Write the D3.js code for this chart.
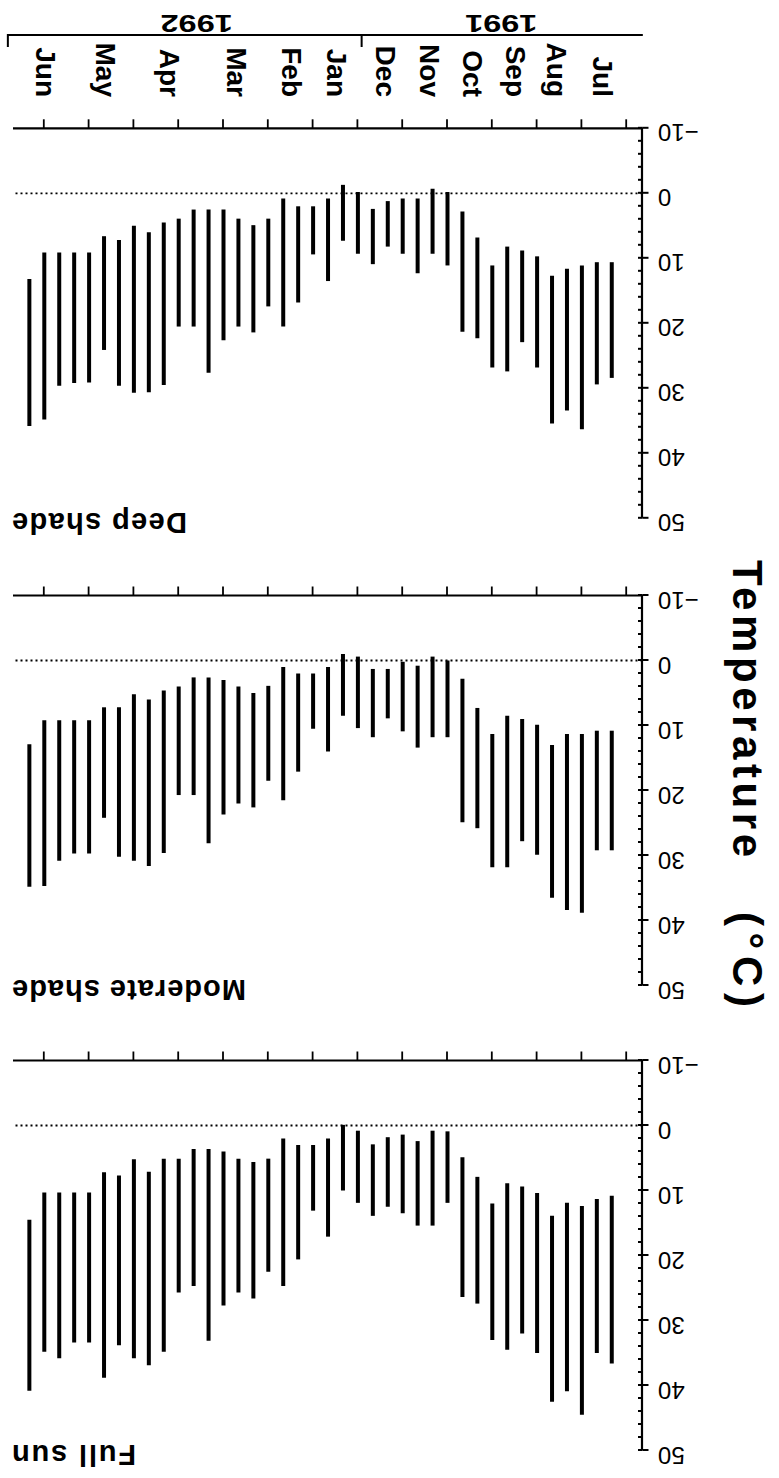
<!DOCTYPE html>
<html><head><meta charset="utf-8">
<script src="https://cdn.jsdelivr.net/npm/d3@7"></script>
<style>body{margin:0;background:#fff}svg{display:block}</style>
</head><body>
<script>
// ---- data (chronological order, 10-day periods, Jul 1991 -> Jun 1992) ----
const months = ["Jul","Aug","Sep","Oct","Nov","Dec","Jan","Feb","Mar","Apr","May","Jun"];
const monthPos = [1.6,4.7,7.4,10.3,13.2,16.1,19.4,22.4,26.1,30.6,34.9,38.9];
const years = ["1991","1992"];
const yearPos = [8.4,28.8];
const yearBreaks = [-1.08,17.75,41.44];
const panelNames = ["Full sun","Moderate shade","Deep shade"];
const tempTicks = [-10,0,10,20,30,40,50];
const minorTicks = d3.range(-10,51,2);
const monthTicks = d3.range(0,40,3);

const fullMin = [10.8,11.3,12.4,11.9,13.9,10.4,9.4,8.9,12.0,7.9,4.9,0.9,0.8,2.4,1.4,1.8,2.9,0.8,-0.1,2.0,3.0,3.0,2.0,5.1,5.6,5.1,4.0,3.6,3.6,5.1,5.1,7.1,5.2,7.7,7.2,10.3,10.3,10.3,10.3,14.5];
const fullMax = [36.6,35.0,44.5,40.9,42.5,35.0,32.0,34.5,33.0,27.4,26.4,11.9,15.4,15.4,13.5,12.5,13.9,11.9,10.0,17.1,13.1,20.6,24.7,22.5,26.6,25.7,27.7,33.1,24.7,25.7,34.8,36.9,35.8,33.8,38.8,33.4,33.4,35.8,34.8,40.8];
const modMin = [10.8,10.8,11.3,11.3,13.0,9.9,9.0,8.5,11.3,7.3,2.8,0.0,-0.6,0.8,0.2,1.3,1.3,-0.6,-1.0,1.0,2.0,2.0,1.0,3.9,5.0,4.0,3.0,2.6,2.6,4.0,4.6,6.0,5.2,7.2,7.2,9.2,9.2,9.2,9.2,12.9];
const modMax = [29.2,29.2,38.8,38.4,36.5,29.9,27.8,31.8,31.8,25.8,24.9,11.8,11.8,13.4,10.9,8.9,11.8,10.4,8.5,14.0,10.5,17.1,21.5,18.5,22.6,22.0,23.7,28.1,20.7,20.7,29.6,31.6,30.8,30.2,24.2,29.7,29.7,30.8,34.7,34.8];
const deepMin = [10.6,10.6,11.1,11.6,12.7,9.7,8.8,8.2,11.1,6.8,2.8,-0.2,-0.7,0.8,0.8,1.2,2.4,-0.2,-1.3,0.8,2.0,2.0,0.8,3.9,4.9,3.9,2.5,2.5,2.5,3.9,4.5,6.0,5.0,7.2,6.6,9.1,9.1,9.1,9.1,13.2];
const deepMax = [28.4,29.4,36.3,33.4,35.4,26.8,22.9,27.4,26.8,22.3,21.3,11.1,9.3,12.3,9.3,8.2,10.9,9.3,7.3,13.5,9.4,16.8,20.5,17.4,21.4,20.5,22.6,27.6,20.5,20.5,29.5,30.6,30.7,29.6,24.1,29.1,29.2,29.6,34.8,35.8];
const seriesMin = [fullMin, modMin, deepMin];
const seriesMax = [fullMax, modMax, deepMax];

// ---- layout ----
const W = 779, H = 1478;
const font = "'Liberation Sans', Arial, Helvetica, sans-serif";
const svg = d3.select("body").append("svg").attr("width", W).attr("height", H);
svg.append("rect").attr("width", W).attr("height", H).attr("fill", "#fff");
// whole figure is shown upside down
const g = svg.append("g").attr("transform", `rotate(180 ${W/2} ${H/2})`);

const x = d3.scaleLinear().domain([0, 39]).range([152.3, 734.7]);
const axisX = 136.5, plotRight = 766;
const panelTops = [27.5, 492.5, 959.7], panelH = 390;
const labelLen = [124, 234, 175];

panelNames.forEach((name, p) => {
  const y = d3.scaleLinear().domain([-10, 50]).range([panelTops[p] + panelH, panelTops[p]]);
  const pg = g.append("g");

  // zero line (dotted)
  pg.append("line")
    .attr("x1", axisX).attr("x2", plotRight)
    .attr("y1", y(0)).attr("y2", y(0))
    .attr("stroke", "#000").attr("stroke-width", 1.8)
    .attr("stroke-dasharray", "2,3");

  // temperature axis: outward major ticks + labels
  const axL = pg.append("g").attr("transform", `translate(${axisX},0)`)
    .call(d3.axisLeft(y).tickValues(tempTicks).tickSizeInner(6).tickSizeOuter(0).tickPadding(9.5));
  axL.select(".domain").attr("stroke-width", 2.2);
  axL.selectAll(".tick line").attr("stroke-width", 2);
  axL.selectAll("text").attr("font-family", font).attr("font-size", 24).attr("dy", "0.14em").attr("fill", "#000");
  // inward minor ticks
  const axR = pg.append("g").attr("transform", `translate(${axisX},0)`)
    .call(d3.axisRight(y).tickValues(minorTicks).tickSizeInner(4.5).tickSizeOuter(0).tickFormat(""));
  axR.select(".domain").remove();
  axR.selectAll(".tick line").attr("stroke-width", 2);

  // month axis at bottom of panel
  const axB = pg.append("g").attr("transform", `translate(0,${y(-10)})`)
    .call(d3.axisBottom(x).tickValues(monthTicks).tickSizeInner(9).tickSizeOuter(0).tickFormat(""));
  axB.select(".domain").attr("d", `M${axisX},0H${plotRight}`).attr("stroke-width", 2.2);
  axB.selectAll(".tick line").attr("stroke-width", 1.8);

  // range bars
  pg.append("g").selectAll("line")
    .data(seriesMin[p].map((v, i) => ({i, lo: v, hi: seriesMax[p][i]})))
    .join("line")
    .attr("x1", d => x(d.i + 1)).attr("x2", d => x(d.i + 1))
    .attr("y1", d => y(d.lo)).attr("y2", d => y(d.hi))
    .attr("stroke", "#000").attr("stroke-width", 4);

  // panel label
  pg.append("text")
    .attr("x", 767).attr("y", panelTops[p] + 5.5)
    .attr("text-anchor", "end")
    .attr("font-family", font).attr("font-weight", "bold").attr("font-size", 29)
    .attr("textLength", labelLen[p]).attr("lengthAdjust", "spacing")
    .text(name);
});

// month labels (below bottom panel)
const mBase = 1381;
g.append("g").selectAll("text").data(months).join("text")
  .attr("x", (d, i) => x(monthPos[i])).attr("y", mBase)
  .attr("transform", (d, i) => `rotate(-90 ${x(monthPos[i])} ${mBase})`)
  .attr("text-anchor", "end").attr("dy", "0.35em")
  .attr("font-family", font).attr("font-weight", "bold").attr("font-size", 28)
  .text(d => d);

// year brackets
const yb = 1443;
const br = g.append("g").attr("stroke", "#000").attr("stroke-width", 2).attr("fill", "none");
br.append("path").attr("d", `M${x(yearBreaks[0])},${yb}H${x(yearBreaks[2])}V${yb - 12}M${x(yearBreaks[1])},${yb}V${yb - 12}`);
g.append("g").selectAll("text").data(years).join("text")
  .attr("transform", (d, i) => `translate(${x(yearPos[i])},1463) scale(1.35,1)`)
  .attr("text-anchor", "middle")
  .attr("font-family", font).attr("font-weight", "bold").attr("font-size", 24)
  .text(d => d);

// y-axis title
g.append("text")
  .attr("transform", "translate(46,918) rotate(-90)")
  .attr("text-anchor", "start")
  .attr("font-family", font).attr("font-weight", "bold").attr("font-size", 42)
  .attr("textLength", 297).attr("lengthAdjust", "spacing")
  .text("Temperature");
g.append("text")
  .attr("transform", "translate(46,566) rotate(-90)")
  .attr("text-anchor", "start")
  .attr("font-family", font).attr("font-weight", "bold").attr("font-size", 42)
  .attr("textLength", 95).attr("lengthAdjust", "spacing")
  .text("(°C)");
</script>
</body></html>
